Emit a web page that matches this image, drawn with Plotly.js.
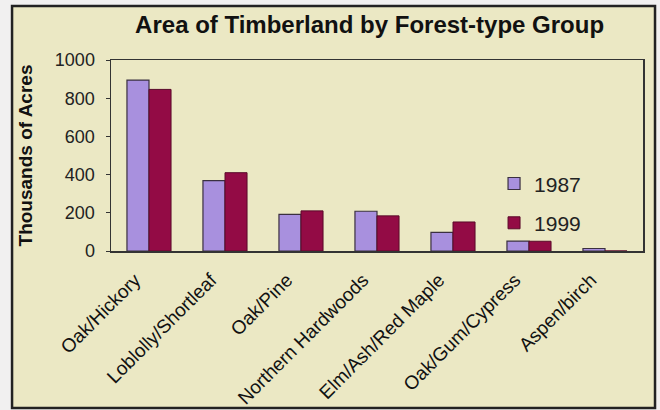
<!DOCTYPE html>
<html>
<head>
<meta charset="utf-8">
<script src="https://cdn.plot.ly/plotly-3.0.1.min.js"></script>
<style>
html,body{margin:0;padding:0;background:#f1f0f0;}
#chart{width:660px;height:410px;}
</style>
</head>
<body>
<div id="chart"></div>
<script>
const categories = ["Oak/Hickory", "Loblolly/Shortleaf", "Oak/Pine", "Northern Hardwoods", "Elm/Ash/Red Maple", "Oak/Gum/Cypress", "Aspen/birch"];
const values1987 = [895, 368, 192, 208, 97, 52, 13];
const values1999 = [846, 410, 210, 184, 152, 51, 0];
const seriesNames = ["1987", "1999"];
const yTicks = [0, 200, 400, 600, 800, 1000];

const bg = '#ebe8c4';
const traces = [
  {type:'bar', name:seriesNames[0], x:categories, y:values1987, legendgroup:'a',
   marker:{color:'#a890de', line:{color:'#3a3040', width:1.2}}},
  {type:'bar', name:seriesNames[1], x:categories, y:values1999, legendgroup:'b',
   marker:{color:'#930b45', line:{color:'#5a0a2a', width:1}}}
];

const layout = {
  width:660, height:410,
  margin:{l:111, r:17, t:60, b:159},
  paper_bgcolor:'#f1f0f0',
  plot_bgcolor:bg,
  barmode:'group', bargap:0.42, bargroupgap:0,
  font:{family:'Liberation Sans, Arial, sans-serif', color:'#222'},
  title:{text:'<b>Area of Timberland by Forest-type Group</b>', font:{size:24, color:'#111'},
         x:0.56, xanchor:'center', y:0.94, yanchor:'middle'},
  xaxis:{type:'category', tickangle:-45, tickfont:{size:19, color:'#111'},
         showline:true, linecolor:'#333', linewidth:1.5, mirror:true,
         ticks:'outside', ticklen:9, tickcolor:'rgba(0,0,0,0)', ticklabelshift:-14, showgrid:false},
  yaxis:{range:[0,1000], tickvals:yTicks, ticktext:yTicks.map(String), tickfont:{size:18, color:'#222'},
         showline:true, linecolor:'#333', linewidth:1.5, mirror:true,
         ticks:'outside', ticklen:4, tickcolor:'#333', ticklabelstandoff:7, showgrid:false, zeroline:false,
         title:{text:'<b>Thousands of Acres</b>', font:{size:19, color:'#111'}, standoff:17}},
  showlegend:true,
  legend:{x:0.72, xanchor:'left', y:0.04, yanchor:'bottom', bgcolor:'rgba(0,0,0,0)',
          font:{size:21, color:'#222'}, traceorder:'grouped', tracegroupgap:9},
  shapes:[
    {type:'rect', xref:'paper', yref:'paper', x0:-0.186, x1:1.0226, y0:-0.822, y1:1.2827,
     fillcolor:bg, line:{color:'#222', width:2.5}, layer:'below'}
  ]
};

Plotly.newPlot('chart', traces, layout, {displayModeBar:false, staticPlot:true});
</script>
</body>
</html>
